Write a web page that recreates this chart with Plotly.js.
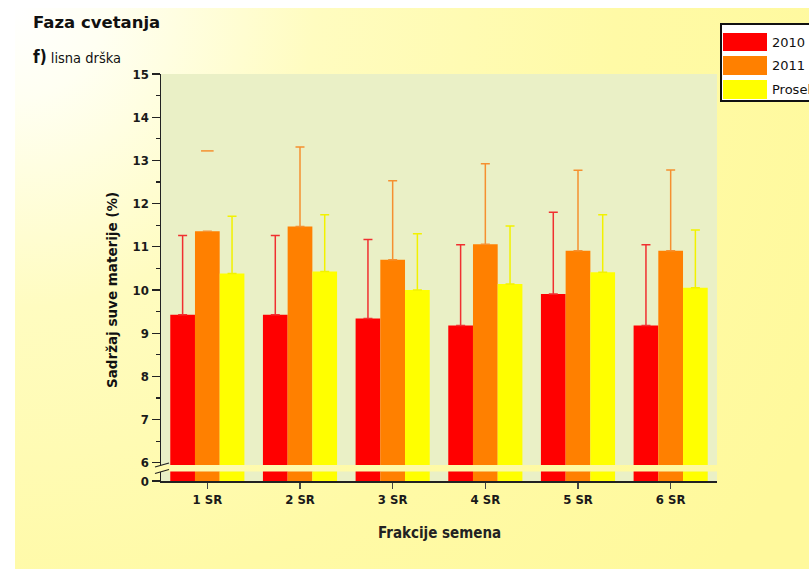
<!DOCTYPE html>
<html>
<head>
<meta charset="utf-8">
<script src="https://cdn.plot.ly/plotly-3.0.1.min.js"></script>
<style>
  html, body { margin: 0; padding: 0; background: #ffffff; width: 809px; height: 569px; overflow: hidden; }
  #bg { position: absolute; left: 15px; top: 8px; width: 794px; height: 561px;
        background: radial-gradient(circle at 0 0, #ffffff 0px, #fffff2 90px, #fffcc0 300px, #fffaa6 600px, #fff99c 900px); }
  #chart { position: absolute; left: 0; top: 0; width: 809px; height: 569px; }
</style>
</head>
<body>
<div id="bg"></div>
<div id="chart"></div>
<script>
// ---- data ----
const categories = ["1 SR", "2 SR", "3 SR", "4 SR", "5 SR", "6 SR"];
const seriesNames = ["2010", "2011", "Prosek"];
const val2010 = [9.43, 9.43, 9.34, 9.18, 9.91, 9.18];
const err2010 = [1.83, 1.83, 1.83, 1.87, 1.89, 1.87];
const val2011 = [11.36, 11.47, 10.70, 11.06, 10.91, 10.91];
const err2011 = [1.86, 1.84, 1.83, 1.86, 1.86, 1.87];
const valProsek = [10.38, 10.43, 10.00, 10.14, 10.41, 10.05];
const errProsek = [1.33, 1.31, 1.30, 1.34, 1.33, 1.34];
// in the source, the first 2011 error bar shows only its cap
const capOnly2011 = [true, false, false, false, false, false];
const yTicksTop = [6, 7, 8, 9, 10, 11, 12, 13, 14, 15];
const yTicksBottom = [0];

// ---- style ----
const colors = ["#ff0000", "#ff8000", "#ffff00"];
const errColors = ["#f03030", "#f59030", "#f2f200"];
const values = [val2010, val2011, valProsek];
const errors = [err2010, err2011.map((e, i) => capOnly2011[i] ? null : e), errProsek];

const traces = [];
for (let s = 0; s < 3; s++) {
  traces.push({
    type: "bar", x: categories, y: values[s], name: seriesNames[s],
    xaxis: "x", yaxis: "y", showlegend: false,
    marker: { color: colors[s], line: { width: 0 } },
    error_y: { type: "data", array: errors[s], symmetric: false, arrayminus: values[s].map(() => 0),
               color: errColors[s], thickness: 1.5, width: 4.5 },
    hoverinfo: "skip"
  });
}
for (let s = 0; s < 3; s++) {
  traces.push({
    type: "bar", x: categories, y: values[s], name: seriesNames[s],
    xaxis: "x", yaxis: "y2", showlegend: false,
    marker: { color: colors[s], line: { width: 0 } },
    hoverinfo: "skip"
  });
}
// cap-only marks
const capX = [], capY = [];
capOnly2011.forEach((c, i) => { if (c) { capX.push(categories[i]); capY.push(val2011[i] + err2011[i]); } });
traces.push({
  type: "scatter", mode: "markers", x: capX, y: capY, xaxis: "x", yaxis: "y", showlegend: false,
  marker: { symbol: "line-ew", size: 9, line: { color: errColors[1], width: 1.5 } }, hoverinfo: "skip"
});

// pixel helpers for decorations (paper coords)
const L = 161, R = 717, T = 74, B = 481;
const px = v => (v - L) / (R - L);
const py = v => (B - v) / (B - T);

const tickFont = { family: "DejaVu Sans Condensed, DejaVu Sans, sans-serif", size: 13, color: "#1a1a1a", weight: "bold" };

const shapes = [];
const annotations = [];
// axis break marks
shapes.push({ type: "line", xref: "paper", yref: "paper", x0: px(155), y0: py(467), x1: px(169), y1: py(463), line: { color: "#222", width: 1.2 } });
shapes.push({ type: "line", xref: "paper", yref: "paper", x0: px(155), y0: py(473.5), x1: px(169), y1: py(469.5), line: { color: "#222", width: 1.2 } });
// legend box
shapes.push({ type: "rect", xref: "paper", yref: "paper", x0: px(721), y0: py(101), x1: px(840), y1: py(24),
              fillcolor: "#ffffff", line: { color: "#111", width: 2 } });
const swY = [[33, 51], [56, 75], [80, 99]];
for (let s = 0; s < 3; s++) {
  shapes.push({ type: "rect", xref: "paper", yref: "paper", x0: px(723), x1: px(767), y0: py(swY[s][1]), y1: py(swY[s][0]),
                fillcolor: colors[s], line: { width: 0 } });
  annotations.push({ xref: "paper", yref: "paper", x: px(770), y: py((swY[s][0] + swY[s][1]) / 2), xanchor: "left", yanchor: "middle",
                     text: seriesNames[s], showarrow: false, font: { family: "DejaVu Sans, sans-serif", size: 13, color: "#111" } });
}
// titles
annotations.push({ xref: "paper", yref: "paper", x: px(31), y: py(22), xanchor: "left", yanchor: "middle", showarrow: false,
                   text: "<b>Faza cvetanja</b>", font: { family: "DejaVu Sans, sans-serif", size: 16.5, color: "#111" } });
annotations.push({ xref: "paper", yref: "paper", x: px(31), y: py(57), xanchor: "left", yanchor: "middle", showarrow: false,
                   text: "<b><span style='font-size:17px'>f)</span></b> lisna drška",
                   font: { family: "DejaVu Sans Condensed, DejaVu Sans, sans-serif", size: 14.5, color: "#111" } });
annotations.push({ xref: "paper", yref: "paper", x: px(112), y: py(290), xanchor: "center", yanchor: "middle", showarrow: false,
                   textangle: -90, text: "<b>Sadržaj suve materije (%)</b>",
                   font: { family: "DejaVu Sans, sans-serif", size: 13.5, color: "#111" } });
annotations.push({ xref: "paper", yref: "paper", x: 0.5, y: py(533), xanchor: "center", yanchor: "middle", showarrow: false,
                   text: "<b>Frakcije semena</b>",
                   font: { family: "DejaVu Sans Condensed, DejaVu Sans, sans-serif", size: 15, color: "#222" } });

const layout = {
  width: 809, height: 569,
  margin: { l: L, r: 809 - R, t: T, b: 569 - B, autoexpand: false },
  paper_bgcolor: "rgba(0,0,0,0)",
  plot_bgcolor: "#eaf0c6",
  barmode: "group", bargap: 0.2, bargroupgap: 0,
  showlegend: false,
  xaxis: { type: "category", anchor: "y2", showline: true, linecolor: "#222", linewidth: 1.5,
           ticks: "outside", ticklen: 6, tickcolor: "#444", tickwidth: 1.2, showgrid: false, zeroline: false,
           tickfont: tickFont },
  yaxis: { domain: [py(465), 1], range: [5.95, 15], tickvals: yTicksTop, showline: true, linecolor: "#222", linewidth: 1.5,
           ticks: "outside", ticklen: 8, tickcolor: "#222", tickwidth: 1.2, showgrid: false, zeroline: false,
           minor: { ticks: "outside", ticklen: 4, tickcolor: "#222", dtick: 0.5, tick0: 0, showgrid: false },
           tickfont: tickFont },
  yaxis2: { domain: [0, py(471.5)], range: [0, 1], tickvals: yTicksBottom, showline: true, linecolor: "#222", linewidth: 1.5,
            ticks: "outside", ticklen: 8, tickcolor: "#222", tickwidth: 1.2, showgrid: false, zeroline: false,
            tickfont: tickFont },
  shapes: shapes,
  annotations: annotations
};

Plotly.newPlot("chart", traces, layout, { displayModeBar: false, staticPlot: true });
</script>
</body>
</html>
